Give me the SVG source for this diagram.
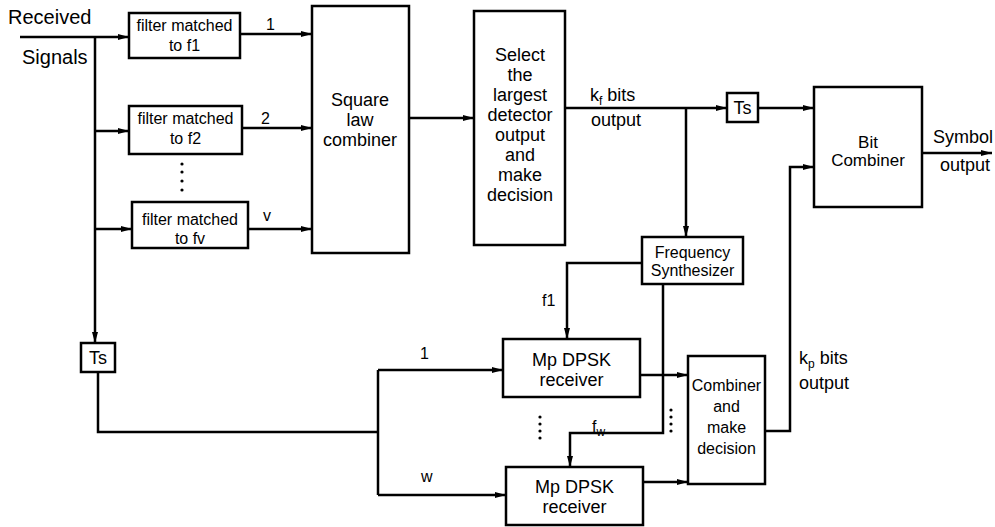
<svg xmlns="http://www.w3.org/2000/svg" width="995" height="527" viewBox="0 0 995 527">
<style>
.box{fill:#fff;stroke:#000;stroke-width:2.5}
.ln{fill:none;stroke:#000;stroke-width:2.5}
.arr{marker-end:url(#ah)}
text{font-family:"Liberation Sans",Arial,sans-serif;fill:#000}
.t16{font-size:16px;text-anchor:middle}
.t18{font-size:18px;text-anchor:middle}
.l18{font-size:18px}
.l16{font-size:16px}
</style>
<defs>
<marker id="ah" markerUnits="userSpaceOnUse" markerWidth="12" markerHeight="8" refX="11" refY="4" orient="auto">
<path d="M0,1 L11,4 L0,7 z" fill="#000"/>
</marker>
</defs>
<rect width="995" height="527" fill="#fff"/>

<g id="labels">
<text class="l18" x="8" y="24" font-size="20" style="font-size:20px">Received</text>
<text class="l18" x="22" y="64" style="font-size:20px">Signals</text>
<text class="l16" x="266" y="30">1</text>
<text class="l16" x="261" y="124">2</text>
<text class="l16" x="263" y="221">v</text>
<g fill="#000">
<circle cx="182" cy="164" r="1.6"/><circle cx="182" cy="172" r="1.6"/><circle cx="182" cy="181" r="1.6"/><circle cx="182" cy="190" r="1.6"/>
<circle cx="540" cy="417" r="1.6"/><circle cx="540" cy="424" r="1.6"/><circle cx="540" cy="431" r="1.6"/><circle cx="540" cy="438" r="1.6"/>
<circle cx="671" cy="410" r="1.6"/><circle cx="671" cy="417" r="1.6"/><circle cx="671" cy="424" r="1.6"/><circle cx="671" cy="431" r="1.6"/>
</g>
<text class="l18" x="590" y="101">k<tspan font-size="12" dy="4">f</tspan><tspan dy="-4"> bits</tspan></text>
<text class="l18" x="591" y="126">output</text>
<text class="l18" x="933" y="143">Symbol</text>
<text class="l18" x="940" y="171">output</text>
<text class="l16" x="542" y="306">f1</text>
<text class="l16" x="592" y="432">f<tspan font-size="12" dy="4">w</tspan></text>
<text class="l18" x="799" y="364">k<tspan font-size="12" dy="4">p</tspan><tspan dy="-4"> bits</tspan></text>
<text class="l18" x="799" y="389">output</text>
<text class="l16" x="420" y="359">1</text>
<text class="l16" x="421" y="482">w</text>
</g>

<g id="connectors">
<path class="ln arr" d="M20,37 H129"/>
<path class="ln arr" d="M95,37 V343"/>
<path class="ln arr" d="M95,131 H129"/>
<path class="ln arr" d="M95,229 H132"/>
<path class="ln arr" d="M240,34 H312"/>
<path class="ln arr" d="M242,128 H312"/>
<path class="ln arr" d="M248,229 H312"/>
<path class="ln arr" d="M409,118 H474"/>
<path class="ln arr" d="M565,108 H727"/>
<path class="ln arr" d="M686,108 V237"/>
<path class="ln arr" d="M758,108 H814"/>
<path class="ln arr" d="M922,153 H992"/>
<path class="ln arr" d="M642,263 H567 V339"/>
<path class="ln arr" d="M663,284 V433 H570 V467"/>
<path class="ln arr" d="M640,375 H688"/>
<path class="ln arr" d="M643,482 H688"/>
<path class="ln arr" d="M765,431 H790 V167 H814"/>
<path class="ln" d="M98,372 V432 H378"/>
<path class="ln" d="M378,370 V495"/>
<path class="ln arr" d="M378,370 H503"/>
<path class="ln arr" d="M378,495 H506"/>
</g>

<g id="filter1">
<rect class="box" x="129" y="13" width="111" height="45"/>
<text class="t16" x="184.5" y="31">filter matched</text>
<text class="t16" x="184.5" y="51">to f1</text>
</g>
<g id="filter2">
<rect class="box" x="129" y="106" width="113" height="48"/>
<text class="t16" x="185.5" y="124">filter matched</text>
<text class="t16" x="185.5" y="144">to f2</text>
</g>
<g id="filterv">
<rect class="box" x="132" y="202" width="116" height="46"/>
<text class="t16" x="190" y="225">filter matched</text>
<text class="t16" x="190" y="244">to fv</text>
</g>
<g id="squarelaw">
<rect class="box" x="312" y="6" width="97" height="247"/>
<text class="t18" x="360" y="106">Square</text>
<text class="t18" x="360" y="126">law</text>
<text class="t18" x="360" y="146">combiner</text>
</g>
<g id="select">
<rect class="box" x="474" y="11" width="91" height="234"/>
<text class="t18" x="520" y="61">Select</text>
<text class="t18" x="520" y="81">the</text>
<text class="t18" x="520" y="101">largest</text>
<text class="t18" x="520" y="121">detector</text>
<text class="t18" x="520" y="141">output</text>
<text class="t18" x="520" y="161">and</text>
<text class="t18" x="520" y="181">make</text>
<text class="t18" x="520" y="201">decision</text>
</g>
<g id="ts1">
<rect class="box" x="727" y="93" width="31" height="29"/>
<text class="t18" x="742.5" y="114">Ts</text>
</g>
<g id="bitcombiner">
<rect class="box" x="814" y="87" width="108" height="120"/>
<text class="t18" x="868" y="148" style="font-size:17px">Bit</text>
<text class="t18" x="868" y="166" style="font-size:17px">Combiner</text>
</g>
<g id="freqsynth">
<rect class="box" x="642" y="237" width="101" height="47"/>
<text class="t16" x="692.5" y="258">Frequency</text>
<text class="t16" x="692.5" y="276">Synthesizer</text>
</g>
<g id="receiver1">
<rect class="box" x="503" y="339" width="137" height="58"/>
<text class="t18" x="571.5" y="366">Mp DPSK</text>
<text class="t18" x="571.5" y="386">receiver</text>
</g>
<g id="receiver2">
<rect class="box" x="506" y="467" width="137" height="58"/>
<text class="t18" x="574.5" y="493">Mp DPSK</text>
<text class="t18" x="574.5" y="513">receiver</text>
</g>
<g id="combiner">
<rect class="box" x="688" y="356" width="77" height="128"/>
<text class="t16" x="726.5" y="391">Combiner</text>
<text class="t16" x="726.5" y="412">and</text>
<text class="t16" x="726.5" y="433">make</text>
<text class="t16" x="726.5" y="454">decision</text>
</g>
<g id="ts2">
<rect class="box" x="81" y="343" width="34" height="29"/>
<text class="t18" x="98" y="364">Ts</text>
</g>
</svg>
